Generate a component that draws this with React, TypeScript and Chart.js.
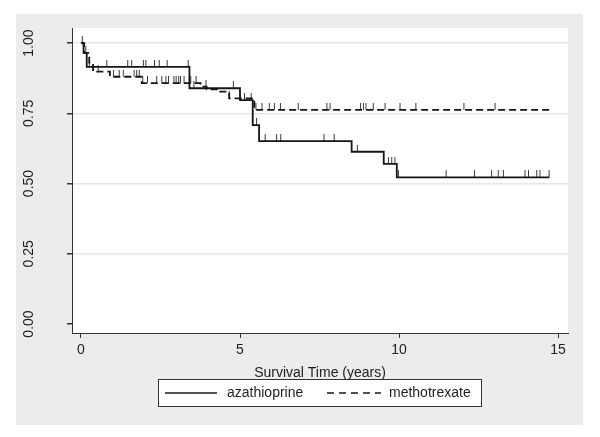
import React, { useEffect, useRef } from 'react';
import { Chart, registerables } from 'chart.js';

Chart.register(...registerables);

// ---- data ----
const seriesNames = ['azathioprine', 'methotrexate'];
const xTitle = 'Survival Time (years)';
const xTicks = [0, 5, 10, 15];
const yTicks = [0, 0.25, 0.5, 0.75, 1];
const yTickLabels = ['0.00', '0.25', '0.50', '0.75', '1.00'];

// azathioprine: step times and survival after each step
const azaTimes = [0, 0.08, 0.18, 3.41, 5.0, 5.4, 5.6, 8.51, 9.52, 9.93];
const azaSurv = [1.0, 0.965, 0.915, 0.839, 0.797, 0.708, 0.651, 0.613, 0.57, 0.522];
const azaEnd = 14.72;
const azaCensor = [
  0.04, 0.26, 0.81, 1.47, 1.59, 1.96, 2.04, 2.31, 2.46, 2.71, 3.37, 3.55, 4.79,
  5.14, 5.35, 5.52, 5.79, 6.15, 6.28, 7.64, 7.96, 8.69, 9.67, 9.77, 9.87, 9.98,
  11.48, 12.37, 12.91, 13.12, 13.28, 13.96, 14.07, 14.33, 14.43, 14.72,
];

// methotrexate
const metTimes = [0, 0.1, 0.26, 0.38, 0.91, 1.91, 3.76, 3.95, 4.27, 4.66, 5.45];
const metSurv = [1.0, 0.965, 0.93, 0.898, 0.88, 0.857, 0.845, 0.835, 0.827, 0.803, 0.762];
const metEnd = 14.84;
const metCensor = [
  0.15, 0.54, 1.02, 1.2, 1.33, 1.67, 1.75, 1.83, 1.94, 2.09, 2.38, 2.54, 2.67,
  2.75, 2.92, 2.99, 3.07, 3.13, 3.24, 3.45, 3.62, 3.93, 4.66, 5.5, 5.69, 5.92,
  6.08, 6.27, 6.83, 7.73, 7.83, 8.79, 8.88, 8.96, 9.19, 9.56, 10.03, 10.53,
  12.04, 13.02,
];

function survAt(times: number[], surv: number[], t: number) {
  let s = surv[0];
  for (let i = 0; i < times.length; i++) if (times[i] <= t) s = surv[i];
  return s;
}
function curve(times: number[], surv: number[], end: number) {
  const pts = times.map((t, i) => ({ x: t, y: surv[i] }));
  pts.push({ x: end, y: surv[surv.length - 1] });
  return pts;
}
function censorPts(times: number[], surv: number[], c: number[]) {
  return c.map((t) => ({ x: t, y: survAt(times, surv, t) }));
}

const FONT = "'Liberation Sans', Arial, Helvetica, sans-serif";

export default function App() {
  const ref = useRef<HTMLCanvasElement | null>(null);
  useEffect(() => {
    if (!ref.current) return;
    const tick = document.createElement('canvas');
    tick.width = 3;
    tick.height = 14;
    const tc = tick.getContext('2d')!;
    tc.fillStyle = '#3a3a3a';
    tc.fillRect(1, 0, 1, 7);

    const bgPlugin = {
      id: 'stataBg',
      beforeDraw(chart: any) {
        const { ctx, chartArea: a } = chart;
        ctx.save();
        ctx.fillStyle = '#ffffff';
        ctx.fillRect(0, 0, chart.width, chart.height);
        ctx.fillStyle = '#ececec';
        ctx.fillRect(16, 14, 567, 411);
        ctx.fillStyle = '#ffffff';
        ctx.fillRect(a.left, a.top, a.right - a.left, a.bottom - a.top);
        ctx.restore();
      },
      afterDraw(chart: any) {
        const { ctx } = chart;
        const ys = chart.scales.y;
        ctx.save();
        ctx.fillStyle = '#1e1e1e';
        ctx.font = `14px ${FONT}`;
        ctx.textAlign = 'center';
        ctx.textBaseline = 'middle';
        yTicks.forEach((v, i) => {
          const py = ys.getPixelForValue(v);
          ctx.save();
          ctx.translate(29, py);
          ctx.rotate(-Math.PI / 2);
          ctx.fillText(yTickLabels[i], 0, 0);
          ctx.restore();
        });
        // legend
        const lx = 158.5, ly = 379.5, lw = 323, lh = 27;
        ctx.fillStyle = '#ffffff';
        ctx.fillRect(lx, ly, lw, lh);
        ctx.strokeStyle = '#333333';
        ctx.lineWidth = 1;
        ctx.strokeRect(lx, ly, lw, lh);
        const cy = ly + lh / 2;
        ctx.strokeStyle = '#1a1a1a';
        ctx.lineWidth = 1.6;
        ctx.beginPath();
        ctx.moveTo(165, cy);
        ctx.lineTo(217, cy);
        ctx.stroke();
        ctx.setLineDash([7, 5]);
        ctx.beginPath();
        ctx.moveTo(327, cy);
        ctx.lineTo(381, cy);
        ctx.stroke();
        ctx.setLineDash([]);
        ctx.fillStyle = '#1e1e1e';
        ctx.textAlign = 'left';
        ctx.fillText(seriesNames[0], 227, cy + 0.5);
        ctx.fillText(seriesNames[1], 389, cy + 0.5);
        ctx.restore();
      },
    };

    const chart = new Chart(ref.current, {
      type: 'scatter',
      data: {
        datasets: [
          {
            label: seriesNames[0],
            data: curve(azaTimes, azaSurv, azaEnd),
            showLine: true,
            stepped: true,
            borderColor: '#141414',
            borderWidth: 1.8,
            pointRadius: 0,
            fill: false,
          },
          {
            label: seriesNames[1],
            data: curve(metTimes, metSurv, metEnd),
            showLine: true,
            stepped: true,
            borderColor: '#141414',
            borderWidth: 1.8,
            borderDash: [7, 4],
            pointRadius: 0,
            fill: false,
          },
          {
            label: 'aza censored',
            data: censorPts(azaTimes, azaSurv, azaCensor),
            showLine: false,
            pointStyle: tick as any,
            pointRadius: 3,
          },
          {
            label: 'met censored',
            data: censorPts(metTimes, metSurv, metCensor),
            showLine: false,
            pointStyle: tick as any,
            pointRadius: 3,
          },
        ],
      },
      options: {
        animation: false,
        responsive: false,
        devicePixelRatio: 1,
        layout: { padding: { left: 0, top: 28, right: 32, bottom: 55.6 } },
        plugins: { legend: { display: false }, tooltip: { enabled: false } },
        scales: {
          x: {
            type: 'linear',
            min: -0.283,
            max: 15.314,
            afterBuildTicks: (s: any) => {
              s.ticks = xTicks.map((v) => ({ value: v }));
            },
            afterFit: (s: any) => {
              s.height = 48.4;
            },
            grid: {
              drawOnChartArea: false,
              drawTicks: true,
              tickLength: 5,
              tickColor: '#333333',
            },
            border: { display: true, color: '#333333', width: 1 },
            ticks: {
              color: '#1e1e1e',
              padding: 3.6,
              font: { family: FONT, size: 14 },
              maxRotation: 0,
              autoSkip: false,
            },
            title: {
              display: true,
              text: xTitle,
              color: '#1e1e1e',
              font: { family: FONT, size: 14 },
              padding: { top: 0, bottom: 0 },
            },
          },
          y: {
            type: 'linear',
            min: -0.032,
            max: 1.0534,
            afterBuildTicks: (s: any) => {
              s.ticks = yTicks.map((v) => ({ value: v }));
            },
            afterFit: (s: any) => {
              s.width = 72;
            },
            grid: {
              drawOnChartArea: true,
              drawTicks: true,
              tickLength: 5,
              lineWidth: 1.5,
              color: (c: any) => (c.tick && c.tick.value === 0 ? 'rgba(0,0,0,0)' : '#e6e6e6'),
              tickColor: '#333333',
            },
            border: { display: true, color: '#333333', width: 1 },
            ticks: { display: false },
          },
        },
      },
      plugins: [bgPlugin],
    });
    return () => chart.destroy();
  }, []);

  return (
    <div style={{ position: 'absolute', left: 0, top: 0, width: 600, height: 437, background: '#fff' }}>
      <canvas ref={ref} width={600} height={437} style={{ width: 600, height: 437, display: 'block' }} />
    </div>
  );
}
